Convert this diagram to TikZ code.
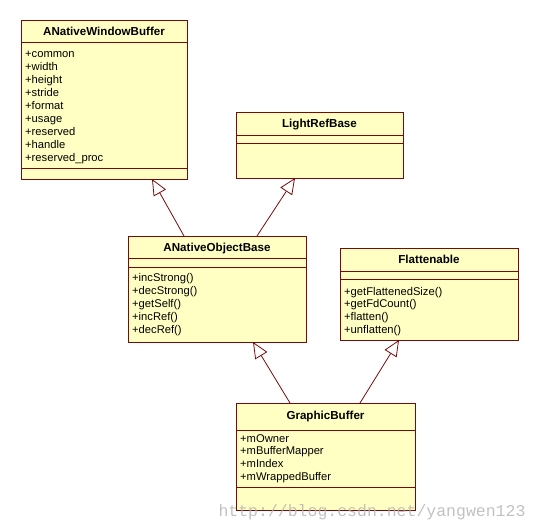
\documentclass[tikz,border=0pt]{standalone}
\usepackage{fontspec}
\setmainfont{Liberation Sans}
\newfontfamily\markfont{Liberation Mono}
\usetikzlibrary{arrows.meta}
\definecolor{umlfill}{RGB}{255,255,196}
\definecolor{umlline}{RGB}{120,10,10}
\begin{document}
\begin{tikzpicture}[x=1pt, y=-1pt,
    classbox/.style={draw=umlline, fill=umlfill, line width=1pt, anchor=north west, inner sep=0pt, outer sep=0pt},
    classname/.style={anchor=base, inner sep=0pt, font=\bfseries\fontsize{11.6}{13}\selectfont},
    member/.style={anchor=base west, inner sep=0pt, font=\fontsize{11.2}{13}\selectfont},
    inherit/.style={draw=umlline, line width=0.8pt, -{Triangle[open, length=16pt, width=14pt, line width=0.8pt]}}]
    \useasboundingbox (0,0) rectangle (539,531);

    %classes
    \node[classbox, minimum width=166pt, minimum height=159pt] (anwb) at (21,20) {};
    \node[classbox, minimum width=167pt, minimum height=66pt] (lrb) at (236,112) {};
    \node[classbox, minimum width=178pt, minimum height=106pt] (aob) at (128,236) {};
    \node[classbox, minimum width=178pt, minimum height=92pt] (flat) at (340,248) {};
    \node[classbox, minimum width=179pt, minimum height=107pt] (gb) at (236,403) {};

    %compartments
    \draw[umlline] (21,42) -- (187,42);
    \draw[umlline] (21,168) -- (187,168);
    \draw[umlline] (236,135) -- (403,135);
    \draw[umlline] (236,143) -- (403,143);
    \draw[umlline] (128,258) -- (306,258);
    \draw[umlline] (128,267) -- (306,267);
    \draw[umlline] (340,271) -- (518,271);
    \draw[umlline] (340,279) -- (518,279);
    \draw[umlline] (236,430) -- (415,430);
    \draw[umlline] (236,487) -- (415,487);

    %names
    \node[classname] (anwb-name) at (104,35) {ANativeWindowBuffer};
    \node[classname] (lrb-name) at (319.5,127) {LightRefBase};
    \node[classname] (aob-name) at (217,251) {ANativeObjectBase};
    \node[classname] (flat-name) at (429,263) {Flattenable};
    \node[classname] (gb-name) at (325.5,419) {GraphicBuffer};

    %members
    \foreach \m [count=\i] in {common,width,height,stride,format,usage,reserved,handle,reserved\_proc}
        \node[member] (anwb-\i) at (25,{57+13*(\i-1)}) {+\m};
    \foreach \m [count=\i] in {incStrong(),decStrong(),getSelf(),incRef(),decRef()}
        \node[member] (aob-\i) at (132,{281+13*(\i-1)}) {+\m};
    \foreach \m [count=\i] in {getFlattenedSize(),getFdCount(),flatten(),unflatten()}
        \node[member] (flat-\i) at (344,{295+12.7*(\i-1)}) {+\m};
    \foreach \m [count=\i] in {mOwner,mBufferMapper,mIndex,mWrappedBuffer}
        \node[member] (gb-\i) at (240,{442+12.7*(\i-1)}) {+\m};

    %inheritance
    \draw[inherit] ([xshift=56pt]aob.north west) -- ([xshift=131pt]anwb.south west);
    \draw[inherit] ([xshift=129pt]aob.north west) -- ([xshift=59pt]lrb.south west);
    \draw[inherit] ([xshift=54pt]gb.north west) -- ([xshift=125pt]aob.south west);
    \draw[inherit] ([xshift=124pt]gb.north west) -- ([xshift=59pt]flat.south west);

    %watermark
    \node[text=black!30, opacity=0.8, font=\markfont\fontsize{16.5}{18}\selectfont] (mark) at (372,512) {http://blog.csdn.net/yangwen123};
\end{tikzpicture}
\end{document}
